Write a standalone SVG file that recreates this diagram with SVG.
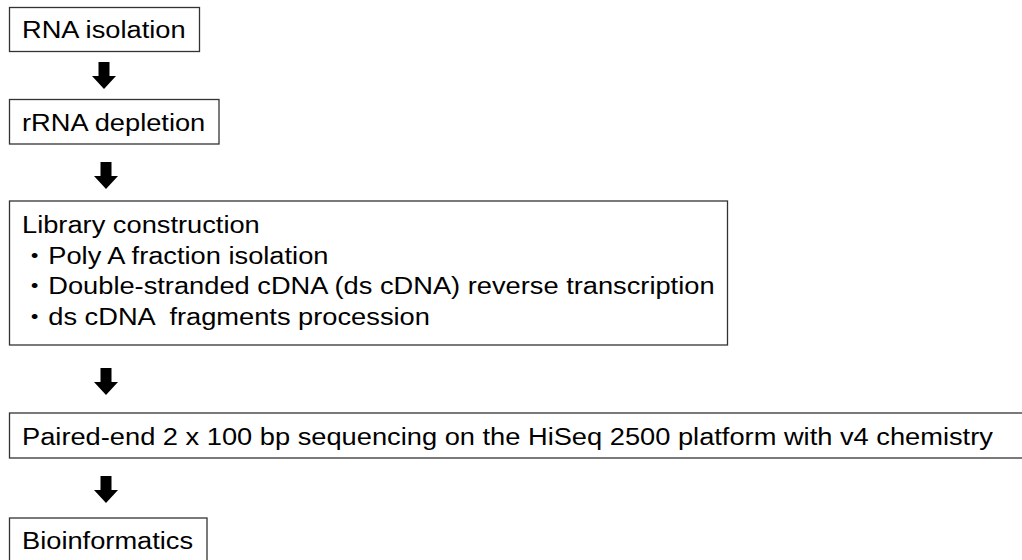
<svg xmlns="http://www.w3.org/2000/svg" width="1022" height="560" viewBox="0 0 1022 560">
<style>
.box{fill:#fff;stroke:#333;stroke-width:1.3}
.t{font-family:"Liberation Sans","Noto Sans CJK JP",Arial,sans-serif;font-size:23.5px;fill:#000;white-space:pre}
.arr{fill:#000}
</style>
<defs>
<path id="arrow" class="arr" d="M-5.5,0 H5.5 V14 H12 L0,27 L-12,14 H-5.5 Z"/>
</defs>
<rect width="1022" height="560" fill="#fff"/>
<g id="node-rna-isolation">
<rect class="box" x="9.5" y="7.5" width="190" height="44"/>
<text class="t" transform="translate(22,38) scale(1.16,1)">RNA isolation</text>
</g>
<g id="node-rrna-depletion">
<rect class="box" x="9.5" y="99.5" width="209.5" height="44.5"/>
<text class="t" transform="translate(22,130.5) scale(1.16,1)">rRNA depletion</text>
</g>
<g id="node-library">
<rect class="box" x="9.5" y="201" width="718" height="144"/>
<text class="t" transform="translate(22,233) scale(1.16,1)">Library construction</text>
<text class="t" transform="translate(21,263.5) scale(1.16,1)">・Poly A fraction isolation</text>
<text class="t" transform="translate(21,294) scale(1.16,1)">・Double-stranded cDNA (ds cDNA) reverse transcription</text>
<text class="t" transform="translate(21,324.5) scale(1.16,1)">・ds cDNA  fragments procession</text>
</g>
<g id="node-sequencing">
<rect class="box" x="9.5" y="413" width="1020" height="45"/>
<text class="t" transform="translate(22,445) scale(1.16,1)">Paired-end 2 x 100 bp sequencing on the HiSeq 2500 platform with v4 chemistry</text>
</g>
<g id="node-bioinformatics">
<rect class="box" x="9.5" y="518" width="197.5" height="46"/>
<text class="t" transform="translate(22,549) scale(1.16,1)">Bioinformatics</text>
</g>
<g id="connectors">
<use href="#arrow" x="104" y="62"/>
<use href="#arrow" x="106" y="162"/>
<use href="#arrow" x="106" y="368"/>
<use href="#arrow" x="106" y="476"/>
</g>
</svg>
